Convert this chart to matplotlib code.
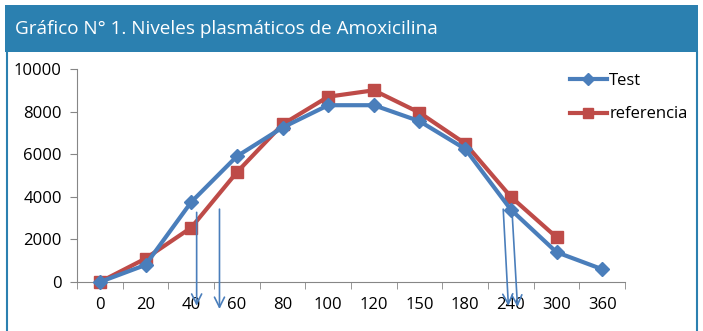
import matplotlib
matplotlib.use("Agg")
import matplotlib.pyplot as plt
from matplotlib.patches import Rectangle
from matplotlib.lines import Line2D

categories = ["0", "20", "40", "60", "80", "100", "120", "150", "180", "240", "300", "360"]
test_values = [0, 800, 3750, 5900, 7250, 8300, 8300, 7550, 6250, 3400, 1400, 600]
ref_values = [0, 1100, 2550, 5150, 7400, 8700, 9000, 7950, 6500, 4000, 2100]
y_ticks = [0, 2000, 4000, 6000, 8000, 10000]
title = "Gráfico N° 1. Niveles plasmáticos de Amoxicilina"

# hand-drawn arrows (category position, y start -> category position, y end)
arrows = [((2.12, 3400), (2.12, -1250)),
          ((2.62, 3550), (2.62, -1400)),
          ((8.83, 3550), (8.95, -1250)),
          ((9.02, 3550), (9.15, -1300))]

plt.rcParams['font.family'] = ['Open Sans', 'DejaVu Sans']

fig = plt.figure(figsize=(7.03, 3.31), dpi=100)
fig.patch.set_facecolor('white')

bar_color = '#2b80b0'
# title bar
fig.patches.append(Rectangle((5/703, 1-52/331), 693/703, 47/331, transform=fig.transFigure,
                             facecolor=bar_color, edgecolor='none', zorder=0))
# panel side borders
fig.lines.append(Line2D([7/703, 7/703], [0, 1-52/331], transform=fig.transFigure, color=bar_color, lw=1.5))
fig.lines.append(Line2D([697/703, 697/703], [0, 1-52/331], transform=fig.transFigure, color=bar_color, lw=1.5))
fig.text(15/703, 1-29/331, title, color='white', fontsize=13.6,
         family=['Open Sans', 'DejaVu Sans'], va='center', ha='left')

ax = fig.add_axes([77/703, 49/331, (625-77)/703, (282-69)/331])
x = list(range(len(categories)))
ax.plot(x, test_values, color='#4a7ebb', lw=3, marker='D', markersize=7, label='Test',
        clip_on=False, zorder=3)
ax.plot(x[:len(ref_values)], ref_values, color='#be4b48', lw=3, marker='s', markersize=8,
        label='referencia', clip_on=False, zorder=2)

ax.set_xlim(-0.5, len(categories) - 0.5)
ax.set_ylim(0, 10000)
ax.set_yticks(y_ticks)
ax.set_yticklabels([str(v) for v in y_ticks], fontsize=12, color='black')
ax.set_xticks(x)
ax.set_xticklabels(categories, fontsize=12, color='black')
ax.set_xticks([i - 0.5 for i in range(len(categories) + 1)], minor=True)
ax.tick_params(axis='x', which='major', length=0, pad=11)
ax.tick_params(axis='x', which='minor', length=5, color='#868686', direction='out')
ax.tick_params(axis='y', length=5, color='#868686', direction='out', pad=6)
for s in ['top', 'right']:
    ax.spines[s].set_visible(False)
for s in ['left', 'bottom']:
    ax.spines[s].set_color('#868686')

for (x0, y0), (x1, y1) in arrows:
    ax.annotate('', xy=(x1, y1), xytext=(x0, y0), xycoords='data', textcoords='data',
                annotation_clip=False,
                arrowprops=dict(arrowstyle='->', color='#4a7ebb', lw=1.2, mutation_scale=18))

leg = ax.legend(loc='upper left', bbox_to_anchor=((555-77)/548, 1.0 + 11/213), frameon=False,
                fontsize=12, handlelength=2.2, labelspacing=1.05, handletextpad=0.15,
                markerscale=0.9)

fig.savefig('out.png', dpi=100)
